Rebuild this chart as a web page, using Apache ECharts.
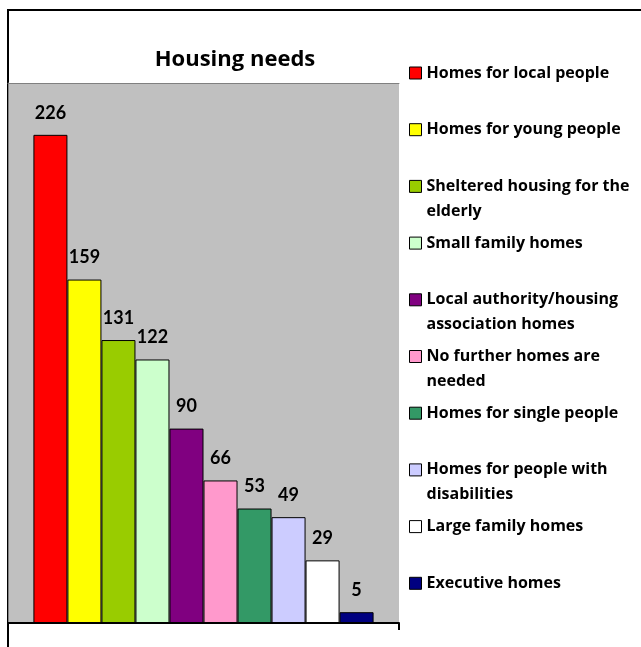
<!DOCTYPE html>
<html><head><meta charset="utf-8">
<script src="https://cdn.jsdelivr.net/npm/echarts@6/dist/echarts.min.js"></script>
<style>html,body{margin:0;padding:0;background:#fff}#c{width:641px;height:647px}</style>
</head><body><div id="c"></div>
<script>
const categories = ['Housing needs'];
const seriesNames = [
  'Homes for local people',
  'Homes for young people',
  'Sheltered housing for the elderly',
  'Small family homes',
  'Local authority/housing association homes',
  'No further homes are needed',
  'Homes for single people',
  'Homes for people with disabilities',
  'Large family homes',
  'Executive homes'
];
const legendLabels = [
  'Homes for local people',
  'Homes for young people',
  'Sheltered housing for the\nelderly',
  'Small family homes',
  'Local authority/housing\nassociation homes',
  'No further homes are\nneeded',
  'Homes for single people',
  'Homes for people with\ndisabilities',
  'Large family homes',
  'Executive homes'
];
const values = [226, 159, 131, 122, 90, 66, 53, 49, 29, 5];
const colors = ['#FF0000', '#FFFF00', '#99CC00', '#CCFFCC', '#800080', '#FF99CC', '#339966', '#CCCCFF', '#FFFFFF', '#000080'];
const yMax = 250;

const LABEL_FONT = 'Lato';
const TEXT_FONT = 'Open Sans';
const legendTop0 = 73, legendStep = 56.7, lh = 25, sq = 12;

const chart = echarts.init(document.getElementById('c'), null, {renderer: 'canvas'});

function legendFor(n, i) {
  const twoLine = legendLabels[i].indexOf('\n') >= 0;
  const h = twoLine ? lh + sq : sq;
  // for two-line entries the square sits beside the first line
  const icon = twoLine
    ? 'path://M0,0L' + sq + ',0L' + sq + ',' + sq + 'L0,' + sq + 'Z M0,' + h
    : 'rect';
  return {
    data: [{name: n, icon: icon}],
    left: 409, top: legendTop0 + i * legendStep - lh / 2,
    orient: 'vertical', padding: 0, itemWidth: sq, itemHeight: h,
    selectedMode: false,
    itemStyle: {borderColor: '#000', borderWidth: 1},
    formatter: (name) => legendLabels[seriesNames.indexOf(name)],
    textStyle: {fontFamily: TEXT_FONT, fontWeight: 'bold', fontSize: 16, color: '#000', lineHeight: lh}
  };
}

const option = {
  animation: false,
  backgroundColor: '#ffffff',
  title: {
    text: 'Housing needs', left: 235, top: 60, padding: 0,
    textAlign: 'center', textVerticalAlign: 'middle',
    textStyle: {fontFamily: TEXT_FONT, fontWeight: 'bold', fontSize: 22, color: '#000'}
  },
  grid: {left: 8, right: 242, top: 83, bottom: 24, show: true, backgroundColor: '#C0C0C0', borderWidth: 0},
  xAxis: [
    {type: 'category', data: categories, position: 'bottom',
     axisLine: {onZero: false, lineStyle: {color: '#000', width: 2}},
     axisTick: {show: true, length: 7, lineStyle: {color: '#000', width: 2}},
     axisLabel: {show: false}},
    {type: 'category', data: categories, position: 'top',
     axisLine: {onZero: false, lineStyle: {color: '#808080', width: 1}},
     axisTick: {show: false}, axisLabel: {show: false}}
  ],
  yAxis: {
    type: 'value', min: 0, max: yMax,
    axisLine: {show: true, onZero: false, lineStyle: {color: '#808080', width: 1}},
    axisTick: {show: false}, axisLabel: {show: false}, splitLine: {show: false}
  },
  legend: seriesNames.map(legendFor),
  series: seriesNames.map((n, i) => ({
    type: 'bar', name: n, data: [values[i]],
    barGap: '0%', barCategoryGap: '13%',
    itemStyle: {color: colors[i], borderColor: '#000', borderWidth: 1},
    label: {show: true, position: 'top', distance: 13, fontFamily: LABEL_FONT, fontWeight: 'bold', fontSize: 18, color: '#000'}
  })),
  graphic: [{
    type: 'polyline', z: -10, silent: true,
    shape: {points: [[8, 647], [8, 10], [641, 10]]},
    style: {stroke: '#000', lineWidth: 2, fill: null}
  }]
};
chart.setOption(option);
</script>
</body></html>
